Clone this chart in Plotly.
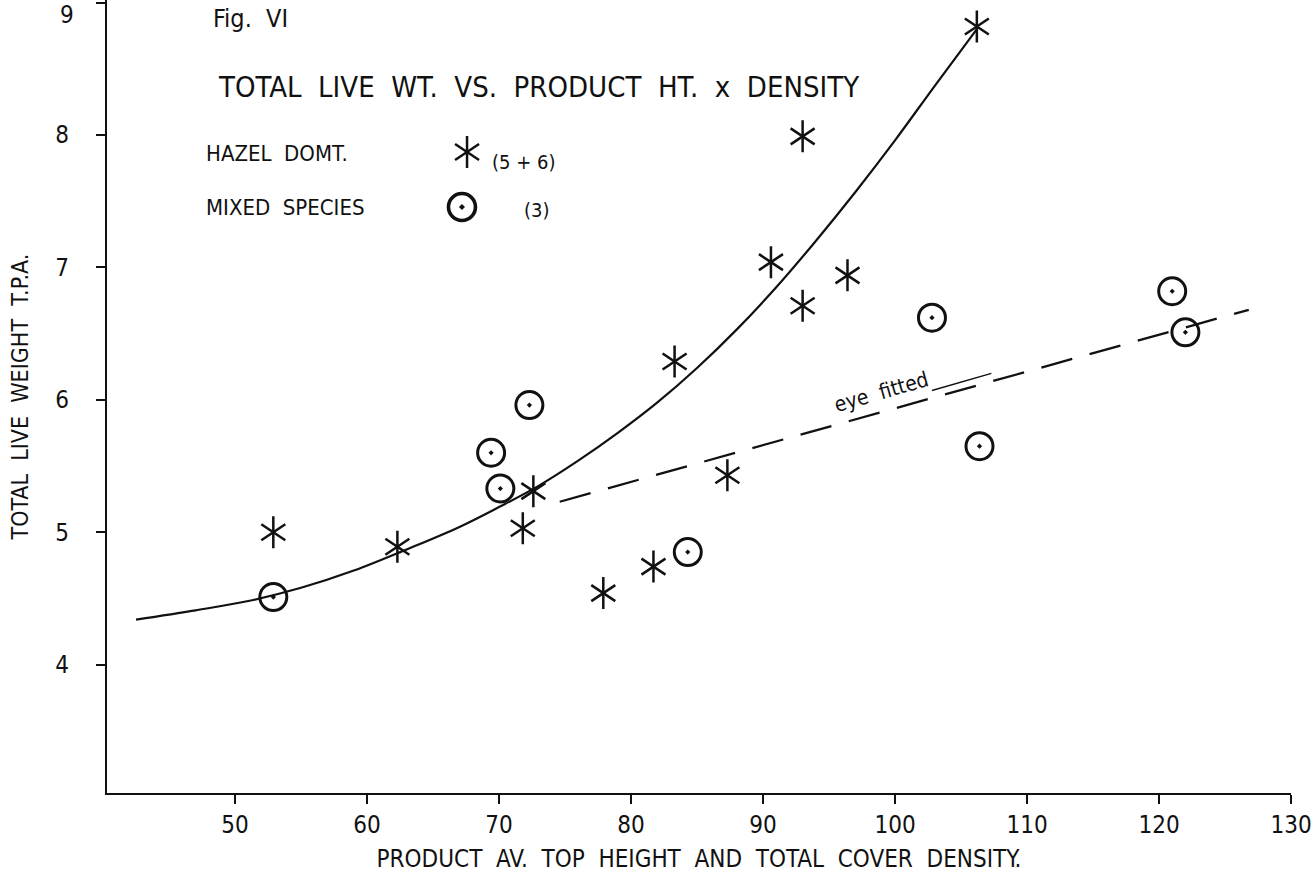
import plotly.graph_objects as go

# --- data -----------------------------------------------------------------
# Hazel dominated plots (5 + 6)
hazel_x = [52.9, 62.3, 72.6, 71.8, 77.9, 81.7, 83.3, 87.3, 90.6, 93.0, 93.0, 96.4, 106.2]
hazel_y = [5.00, 4.89, 5.31, 5.03, 4.54, 4.74, 6.29, 5.43, 7.04, 6.71, 7.99, 6.94, 8.82]

# Mixed species plots (3)
mixed_x = [52.9, 69.4, 72.3, 70.1, 84.3, 102.8, 106.4, 121.0, 122.0]
mixed_y = [4.51, 5.60, 5.96, 5.33, 4.85, 6.62, 5.65, 6.82, 6.51]

# hand-drawn curve through the hazel points
curve_x = [42.5, 47, 51, 55, 59, 63, 67, 70, 73, 76, 79, 82, 85, 88, 91, 94, 97, 100,
           103, 106.2]
curve_y = [4.34, 4.41, 4.48, 4.58, 4.71, 4.87, 5.04, 5.19, 5.35, 5.54, 5.75, 5.98, 6.24,
           6.53, 6.85, 7.20, 7.57, 7.96, 8.37, 8.80]

# eye-fitted line for the mixed species
eye_x = [74.6, 126.8]
eye_y = [5.23, 6.68]

x_ticks = [50, 60, 70, 80, 90, 100, 110, 120, 130]
y_ticks = [4, 5, 6, 7, 8, 9]
y_tick_text = ["4", "5", "6", "7", "8", ""]   # top label is set just under its tick
y_top_label = "9"

FONT = "DejaVu Sans Condensed, Liberation Sans Narrow, Liberation Sans, sans-serif"
INK = "#111111"

fig = go.Figure()

fig.add_trace(go.Scatter(x=curve_x, y=curve_y, mode="lines",
                         line=dict(color=INK, width=2.2, shape="spline", smoothing=1.0),
                         hoverinfo="skip", showlegend=False))
fig.add_trace(go.Scatter(x=eye_x, y=eye_y, mode="lines",
                         line=dict(color=INK, width=2.3, dash="32px,18px"),
                         hoverinfo="skip", showlegend=False))

# six-armed star = two overlaid three-armed glyphs
STAR = dict(size=20, color=INK, line=dict(color=INK, width=2.5))
for sym in ("y-up-open", "y-down-open"):
    fig.add_trace(go.Scatter(x=hazel_x, y=hazel_y, mode="markers", name="HAZEL DOMT.",
                             marker=dict(symbol=sym, **STAR), showlegend=False))

RING = dict(size=27, color=INK, line=dict(color=INK, width=3))
fig.add_trace(go.Scatter(x=mixed_x, y=mixed_y, mode="markers", name="MIXED SPECIES",
                         marker=dict(symbol="circle-open-dot", **RING), showlegend=False))

# key glyphs, placed on an overlay axis in plot-fraction units
key_x = [0.3041, 0.2998]
key_y = [0.8083, 0.7390]
for sym in ("y-up-open", "y-down-open"):
    fig.add_trace(go.Scatter(x=[key_x[0]], y=[key_y[0]], xaxis="x2", yaxis="y2",
                             mode="markers", marker=dict(symbol=sym, **STAR),
                             hoverinfo="skip", showlegend=False))
fig.add_trace(go.Scatter(x=[key_x[1]], y=[key_y[1]], xaxis="x2", yaxis="y2",
                         mode="markers",
                         marker=dict(symbol="circle-open-dot", size=27, color=INK,
                                     line=dict(color=INK, width=3.6)),
                         hoverinfo="skip", showlegend=False))

# thin stroke trailing "eye fitted"
fig.add_shape(type="line", x0=102.8, y0=6.07, x1=107.3, y1=6.20,
              line=dict(color=INK, width=1.4))

def note(text, x, y, size, yanchor="middle"):
    fig.add_annotation(text=text, x=x, y=y, xref="paper", yref="paper",
                       xanchor="left", yanchor=yanchor, showarrow=False,
                       font=dict(family=FONT, size=size, color=INK))

note("Fig.  VI", 0.088, 0.997, 25, yanchor="top")
note("TOTAL  LIVE  WT.  VS.  PRODUCT  HT.  x  DENSITY", 0.092, 0.890, 29)
note("HAZEL  DOMT.", 0.082, 0.807, 22)
note("MIXED  SPECIES", 0.082, 0.738, 22)
note("(5 + 6)", 0.3235, 0.796, 20)
note("(3)", 0.3505, 0.735, 20)
fig.add_annotation(text="eye  fitted", x=99.0, y=6.06, xref="x", yref="y",
                   showarrow=False, textangle=-16,
                   font=dict(family=FONT, size=21, color=INK))

# top y label, right-aligned with the other tick labels
fig.add_annotation(text=y_top_label, x=-31 / 1184, y=y_ticks[-1], xref="paper", yref="y",
                   xanchor="right", yanchor="top", yshift=4, showarrow=False,
                   font=dict(family=FONT, size=24, color=INK))

fig.update_layout(
    width=1316, height=888,
    margin=dict(l=107, r=25, t=0, b=95),
    paper_bgcolor="white", plot_bgcolor="white",
    font=dict(family=FONT, color=INK),
    xaxis=dict(range=[40.3, 130], tickvals=x_ticks, ticks="outside", ticklen=9,
               tickwidth=2, tickcolor=INK, showline=True, linecolor=INK, linewidth=2.4,
               showgrid=False, zeroline=False, tickfont=dict(size=24, family=FONT),
               automargin=False,
               title=dict(text="PRODUCT  AV.  TOP  HEIGHT  AND  TOTAL  COVER  DENSITY.",
                          font=dict(size=24, family=FONT), standoff=12)),
    yaxis=dict(range=[3.03, 9.02], tickvals=y_ticks, ticktext=y_tick_text,
               ticks="outside", ticklen=9,
               tickwidth=2, tickcolor=INK, showline=True, linecolor=INK, linewidth=2.4,
               showgrid=False, zeroline=False, tickfont=dict(size=24, family=FONT),
               ticklabelstandoff=22, automargin=False,
               title=dict(text="TOTAL  LIVE  WEIGHT  T.P.A.",
                          font=dict(size=23, family=FONT), standoff=20)),
    xaxis2=dict(overlaying="x", range=[0, 1], visible=False),
    yaxis2=dict(overlaying="y", range=[0, 1], visible=False),
    showlegend=False,
)

fig.write_html("out.html")
